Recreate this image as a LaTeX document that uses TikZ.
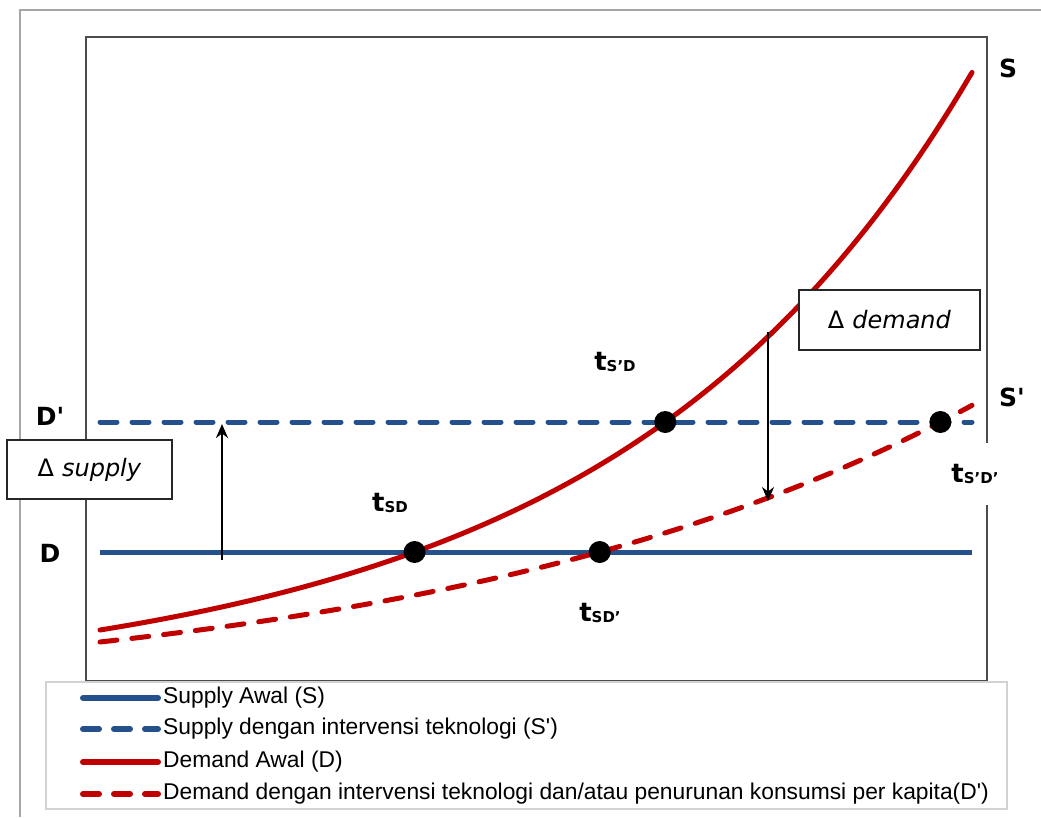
\documentclass[tikz,border=0pt]{standalone}
\usepackage{fontspec}
\setmainfont{DejaVu Sans}
\newfontfamily\legfont{Liberation Sans}
\usetikzlibrary{arrows.meta,intersections}
\definecolor{sblue}{HTML}{24508C}
\definecolor{dred}{HTML}{C00000}
\newcommand{\tlab}[1]{{\fontsize{26}{26}\selectfont\bfseries t}\raisebox{-1.5pt}{\fontsize{15}{15}\selectfont\bfseries #1}}
\begin{document}
\begin{tikzpicture}[x=1pt,y=-1pt,
  frameline/.style={draw=gray!70, line width=2pt},
  plotbox/.style={draw=black!70, line width=1.4pt},
  legbox/.style={draw=gray!35, line width=1.2pt},
  sline/.style={draw=sblue, line width=5pt},
  sdash/.style={draw=sblue, line width=5pt, line cap=round, dash pattern=on 17pt off 15pt},
  dline/.style={draw=dred, line width=5pt, line cap=round},
  ddash/.style={draw=dred, line width=5pt, line cap=round, dash pattern=on 17pt off 15pt},
  lsline/.style={draw=sblue, line width=6pt, line cap=round},
  lsdash/.style={draw=sblue, line width=6pt, line cap=round, dash pattern=on 16pt off 15pt},
  ldline/.style={draw=dred, line width=6pt, line cap=round},
  lddash/.style={draw=dred, line width=6pt, line cap=round, dash pattern=on 16pt off 15pt},
  dot/.style={circle, fill=black, inner sep=0pt, minimum size=22pt},
  axlab/.style={font=\fontsize{25}{25}\selectfont\bfseries, inner sep=1pt},
  tlabel/.style={inner sep=1pt},
  deltabox/.style={draw=black!85, line width=1.5pt, fill=white, inner sep=0pt,
    font=\fontsize{24}{26}\selectfont},
  legtext/.style={anchor=west, inner sep=0pt, font=\legfont\fontsize{22.8}{24}\selectfont},
  shift arrow/.style={-{Stealth[length=14pt,width=12pt]}, line width=2pt, draw=black}
]
\useasboundingbox (0,0) rectangle (1041,817);
\fill[white] (0,0) rectangle (1041,817);

% frame and plot area
\draw[frameline] (1041,10) -- (20,10) -- (20,817);
\draw[plotbox] (86,37) rectangle (987,681);
\draw[legbox] (46,682) rectangle (1007,809);

% supply levels
\draw[sline, name path=Sline] (100,552) -- (972,552);
\draw[sdash, name path=Spline] (100,422) -- (972,422);

% demand curves
\draw[dline, name path=Dcurve] plot[domain=100:972, samples=120]
  (\x, {682 - 52*exp(0.00283*(\x-100)) - 4*sin(0.20642*(\x-100))});
\draw[ddash, name path=Dpcurve] plot[domain=100:972, samples=120]
  (\x, {682 - (60.13*exp(0.00183*(\x-100)) - 20.13)});

% equilibrium points
\path[name intersections={of=Dcurve and Sline, by=pSD}];
\path[name intersections={of=Dcurve and Spline, by=pSpD}];
\path[name intersections={of=Dpcurve and Sline, by=pSDp}];
\path[name intersections={of=Dpcurve and Spline, by=pSpDp}];
\node[dot] (dSD) at (pSD) {};
\node[dot] (dSpD) at (pSpD) {};
\node[dot] (dSDp) at (pSDp) {};
\node[dot] (dSpDp) at (pSpDp) {};

% shift arrows
\coordinate (supA) at (222,560);
\coordinate (supB) at (222,424);
\coordinate (demA) at (768,332);
\coordinate (demB) at (768,501);
\draw[shift arrow] (supA) -- (supB);
\draw[shift arrow] (demA) -- (demB);

% axis labels
\node[axlab] (labDp) at (50,416) {D\textquotesingle};
\node[axlab] (labD) at (50,553) {D};
\node[axlab] (labS) at (1008,68) {S};
\node[axlab] (labSp) at (1012,397) {S\textquotesingle};

% point labels
\node[tlabel] (tSD) at (390,503) {\tlab{SD}};
\node[tlabel] (tSpD) at (615,362) {\tlab{S’D}};
\node[tlabel] (tSDp) at (600,613) {\tlab{SD’}};
\node[tlabel, fill=white, minimum height=62pt] (tSpDp) at (975,474) {\tlab{S’D’}};

% shift boxes
\node[deltabox, minimum width=165pt, minimum height=59pt] (dsup) at (89.5,469.5)
  {Δ\,\,\textit{supply}};
\node[deltabox, minimum width=181pt, minimum height=60pt] (ddem) at (889.5,320)
  {Δ\,\,\textit{demand}};

% legend
\draw[lsline] (83,698) -- (158,698);
\node[legtext] (lg1) at (163,698) {Supply Awal (S)};
\draw[lsdash] (83,729) -- (158,729);
\node[legtext] (lg2) at (163,729) {Supply dengan intervensi teknologi (S\textquotesingle)};
\draw[ldline] (83,762) -- (158,762);
\node[legtext] (lg3) at (163,762) {Demand Awal (D)};
\draw[lddash] (83,794) -- (158,794);
\node[legtext] (lg4) at (163,794) {Demand dengan intervensi teknologi dan/atau penurunan konsumsi per kapita(D\textquotesingle)};
\end{tikzpicture}
\end{document}
